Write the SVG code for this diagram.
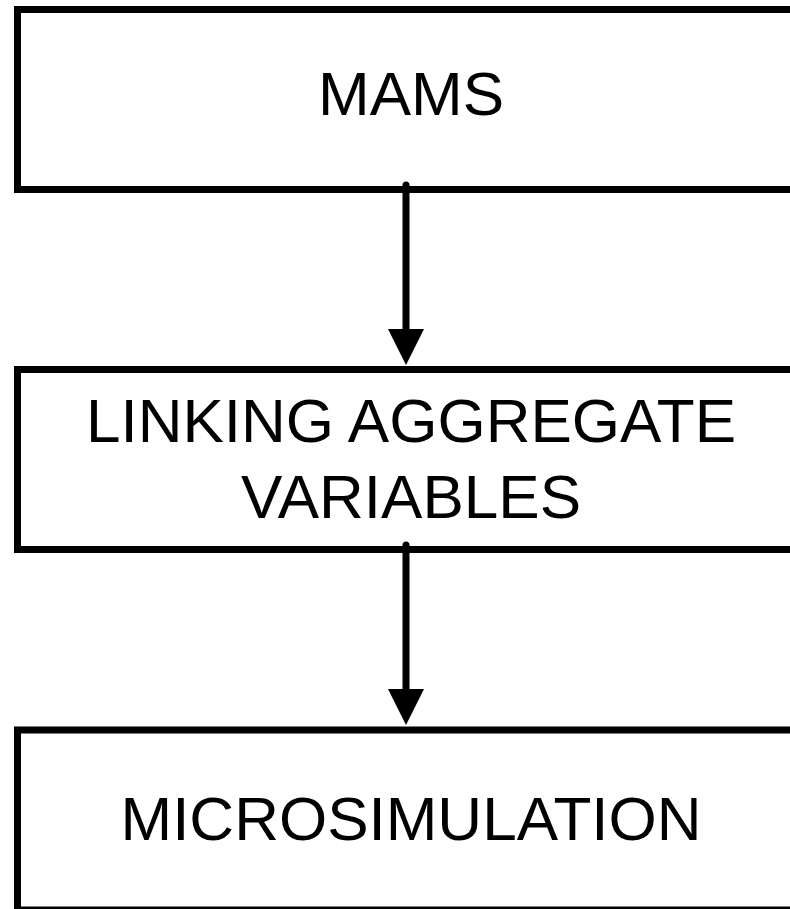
<svg xmlns="http://www.w3.org/2000/svg" width="790" height="909" viewBox="0 0 790 909">
<style>
.box{fill:#fff;stroke:#000;stroke-width:7}
.lbl{font-family:"Liberation Sans",Arial,sans-serif;font-size:62px;fill:#000;text-anchor:middle}
.conn{stroke:#000;stroke-width:7;stroke-linecap:round;fill:none}
.head{fill:#000}
</style>
<rect width="790" height="909" fill="#fff"/>
<g id="node-mams">
<rect class="box" x="17.5" y="9.5" width="790" height="180"/>
<text class="lbl" x="411" y="115">MAMS</text>
</g>
<g id="node-linking">
<rect class="box" x="17.5" y="369.5" width="790" height="180"/>
<text class="lbl" x="411" y="442">LINKING AGGREGATE</text>
<text class="lbl" x="411" y="518">VARIABLES</text>
</g>
<g id="node-micro">
<rect class="box" x="17.5" y="730" width="790" height="180"/>
<text class="lbl" x="411" y="840">MICROSIMULATION</text>
</g>
<g id="connectors">
<line class="conn" x1="406" y1="185" x2="406" y2="332"/>
<polygon class="head" points="388,329 424,329 406,365"/>
<line class="conn" x1="406" y1="545" x2="406" y2="692"/>
<polygon class="head" points="388,689 424,689 406,725"/>
</g>
</svg>
